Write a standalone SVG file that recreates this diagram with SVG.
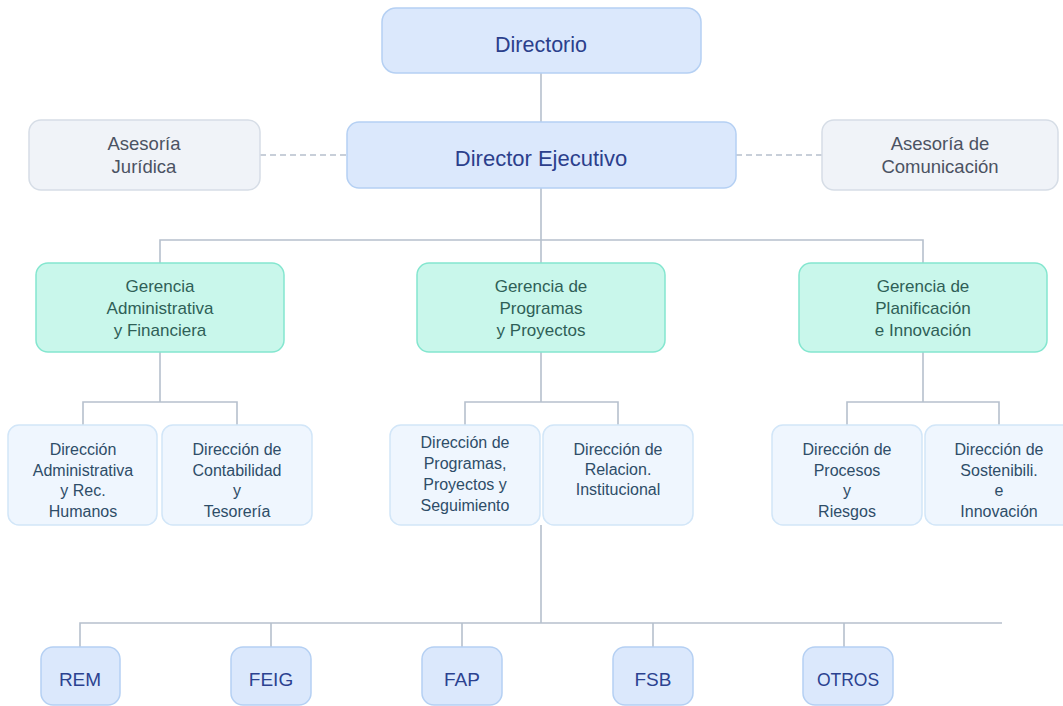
<svg xmlns="http://www.w3.org/2000/svg" width="1063" height="706" viewBox="0 0 1063 706">
<style>
text{font-family:"Liberation Sans",Arial,sans-serif;text-anchor:middle}
.top rect{fill:#dbe8fc;stroke:#b5d0f3;stroke-width:1.5}
.top text{fill:#2b3f8c;font-size:21.5px}
.ase rect{fill:#f0f3f8;stroke:#d6dde6;stroke-width:1.5}
.ase text{fill:#4b5262;font-size:18.5px}
.ger rect{fill:#c9f7eb;stroke:#84e6cf;stroke-width:1.5}
.ger text{fill:#2f5f57;font-size:17px}
.dir rect{fill:#eff6fe;stroke:#d2e6f8;stroke-width:1.5}
.dir text{fill:#2e4d68;font-size:16px}
.fnd rect{fill:#dbe8fc;stroke:#b5d0f3;stroke-width:1.5}
.fnd text{fill:#2b4290;font-size:19px}
.ln{fill:none;stroke:#b6c0cd;stroke-width:1.6}
.dash{fill:none;stroke:#b6c0cd;stroke-width:1.4;stroke-dasharray:6 4}
</style>
<g id="connectors">
<path class="ln" d="M541 73V122"/>
<path class="dash" d="M260 155H347M736 155H822"/>
<path class="ln" d="M541 188V263M160 263V240H923V263"/>
<path class="ln" d="M160 352V402M83 425V402H237V425"/>
<path class="ln" d="M541 352V402M465 425V402H618V425"/>
<path class="ln" d="M923 352V402M847 425V402H999V425"/>
<path class="ln" d="M541 525V623M80 647V623H1002M271 623V647M462 623V647M653 623V647M844 623V647"/>
</g>
<g id="directorio" class="top"><rect x="382" y="8" width="319" height="65" rx="14"/><text x="541" y="52">Directorio</text></g>
<g id="director-ejecutivo" class="top"><rect x="347" y="122" width="389" height="66" rx="12"/><text x="541" y="166" style="font-size:22px">Director Ejecutivo</text></g>
<g id="asesoria-juridica" class="ase"><rect x="29" y="120" width="231" height="70" rx="12"/><text x="144" y="150">Asesoría</text><text x="144" y="173">Jurídica</text></g>
<g id="asesoria-comunicacion" class="ase"><rect x="822" y="120" width="236" height="70" rx="12"/><text x="940" y="150">Asesoría de</text><text x="940" y="173">Comunicación</text></g>
<g id="gerencia-admin" class="ger"><rect x="36" y="263" width="248" height="89" rx="12"/><text x="160" y="292">Gerencia</text><text x="160" y="314">Administrativa</text><text x="160" y="336">y Financiera</text></g>
<g id="gerencia-programas" class="ger"><rect x="417" y="263" width="248" height="89" rx="12"/><text x="541" y="292">Gerencia de</text><text x="541" y="314">Programas</text><text x="541" y="336">y Proyectos</text></g>
<g id="gerencia-planificacion" class="ger"><rect x="799" y="263" width="248" height="89" rx="12"/><text x="923" y="292">Gerencia de</text><text x="923" y="314">Planificación</text><text x="923" y="336">e Innovación</text></g>
<g id="dir-admin" class="dir"><rect x="8" y="425" width="149" height="100" rx="11"/><text x="83" y="455">Dirección</text><text x="83" y="476">Administrativa</text><text x="83" y="496">y Rec.</text><text x="83" y="517">Humanos</text></g>
<g id="dir-contabilidad" class="dir"><rect x="162" y="425" width="150" height="100" rx="11"/><text x="237" y="455">Dirección de</text><text x="237" y="476">Contabilidad</text><text x="237" y="496">y</text><text x="237" y="517">Tesorería</text></g>
<g id="dir-programas" class="dir"><rect x="390" y="425" width="150" height="100" rx="11"/><text x="465" y="448">Dirección de</text><text x="465" y="469">Programas,</text><text x="465" y="490">Proyectos y</text><text x="465" y="511">Seguimiento</text></g>
<g id="dir-relacion" class="dir"><rect x="543" y="425" width="150" height="100" rx="11"/><text x="618" y="455">Dirección de</text><text x="618" y="475">Relacion.</text><text x="618" y="495">Institucional</text></g>
<g id="dir-procesos" class="dir"><rect x="772" y="425" width="150" height="100" rx="11"/><text x="847" y="455">Dirección de</text><text x="847" y="476">Procesos</text><text x="847" y="496">y</text><text x="847" y="517">Riesgos</text></g>
<g id="dir-sostenibilidad" class="dir"><rect x="925" y="425" width="150" height="100" rx="11"/><text x="999" y="455">Dirección de</text><text x="999" y="476">Sostenibili.</text><text x="999" y="496">e</text><text x="999" y="517">Innovación</text></g>
<g id="rem" class="fnd"><rect x="41" y="647" width="79" height="58" rx="12"/><text x="80" y="686">REM</text></g>
<g id="feig" class="fnd"><rect x="231" y="647" width="80" height="58" rx="12"/><text x="271" y="686">FEIG</text></g>
<g id="fap" class="fnd"><rect x="422" y="647" width="80" height="58" rx="12"/><text x="462" y="686">FAP</text></g>
<g id="fsb" class="fnd"><rect x="613" y="647" width="80" height="58" rx="12"/><text x="653" y="686">FSB</text></g>
<g id="otros" class="fnd"><rect x="803" y="647" width="90" height="58" rx="12"/><text x="848" y="686" style="font-size:17.5px">OTROS</text></g>
</svg>
